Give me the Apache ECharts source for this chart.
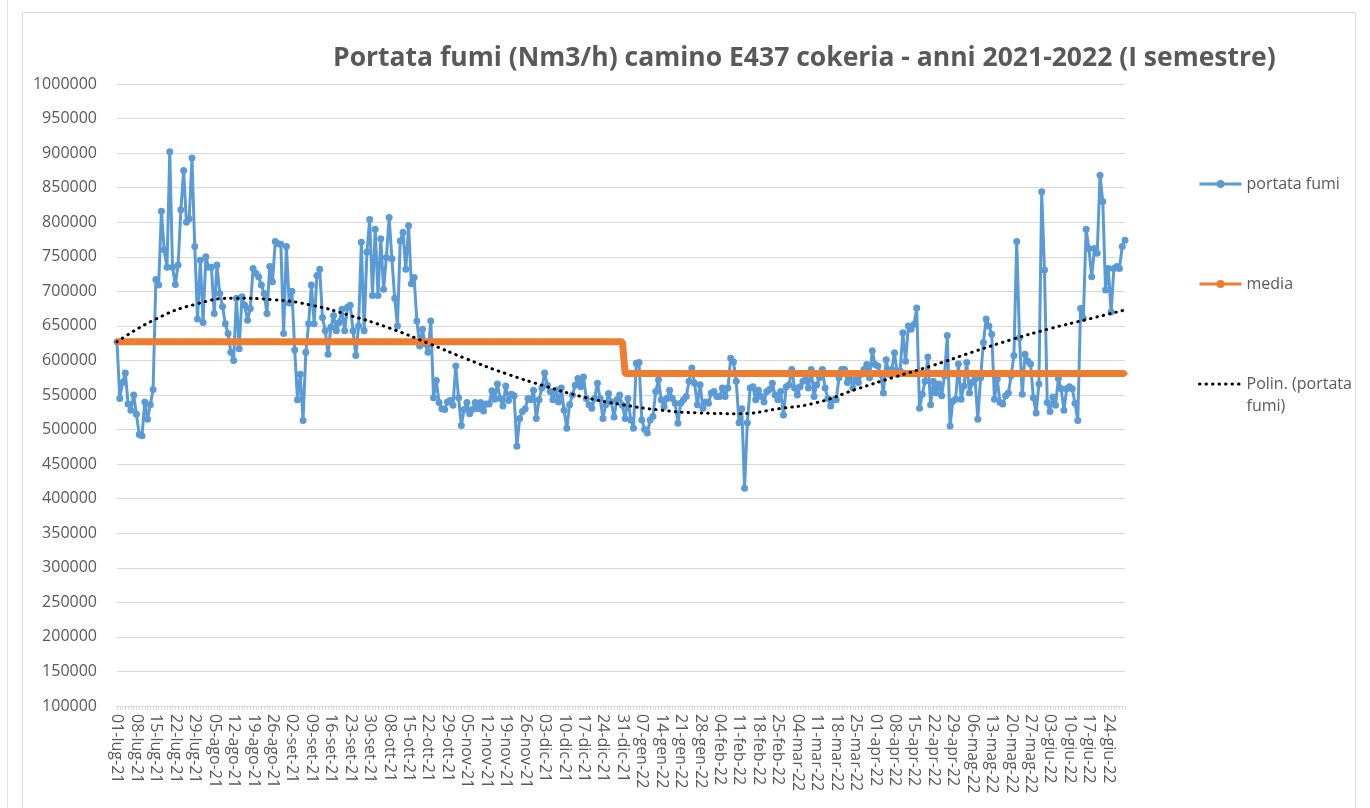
<!DOCTYPE html>
<html>
<head>
<meta charset="utf-8">
<title>Portata fumi camino E437</title>
<script src="https://cdn.jsdelivr.net/npm/echarts@6/dist/echarts.min.js"></script>
<style>
  html, body { margin: 0; padding: 0; background: #fff; }
  #chart { width: 1370px; height: 808px; }
</style>
</head>
<body>
<div id="chart"></div>
<script>
// mesi (etichette asse x)
const monthNames = ['lug', 'ago', 'set', 'ott', 'nov', 'dic', 'gen', 'feb', 'mar', 'apr', 'mag', 'giu']
const monthYears = [21, 21, 21, 21, 21, 21, 22, 22, 22, 22, 22, 22]
const monthDays = [31, 31, 30, 31, 30, 31, 31, 28, 31, 30, 31, 30]
const missingDates = ['07-ott-21'] // giorno assente nei dati

// portata fumi giornaliera (Nm3/h), un array per mese
const portataLug = [627000, 545000, 568000, 582000, 537000, 528000, 550000, 522000, 493000, 491000, 540000, 515000, 536000, 558000, 717000, 709000, 816000, 760000, 735000, 902000, 735000, 710000, 738000, 818000, 875000, 800000, 805000, 893000, 765000, 660000, 745000]
const portataAgo = [655000, 750000, 735000, 735000, 668000, 738000, 697000, 678000, 653000, 639000, 612000, 600000, 690000, 617000, 692000, 680000, 658000, 675000, 733000, 726000, 721000, 709000, 697000, 668000, 736000, 714000, 772000, 769000, 768000, 639000, 765000]
const portataSet = [683000, 700000, 615000, 543000, 580000, 513000, 612000, 653000, 709000, 653000, 723000, 732000, 662000, 643000, 609000, 648000, 665000, 643000, 655000, 674000, 643000, 677000, 680000, 643000, 607000, 650000, 771000, 643000, 757000, 804000]
const portataOtt = [694000, 790000, 694000, 776000, 703000, 749000, 807000, 747000, 690000, 650000, 773000, 785000, 732000, 795000, 711000, 720000, 657000, 621000, 645000, 624000, 612000, 657000, 546000, 571000, 539000, 530000, 529000, 540000, 542000, 535000]
const portataNov = [592000, 546000, 506000, 529000, 539000, 523000, 529000, 539000, 530000, 539000, 527000, 537000, 537000, 556000, 544000, 566000, 545000, 534000, 563000, 542000, 551000, 549000, 476000, 516000, 526000, 530000, 545000, 543000, 557000, 516000]
const portataDic = [543000, 560000, 582000, 564000, 555000, 543000, 557000, 540000, 560000, 528000, 502000, 536000, 550000, 564000, 574000, 562000, 576000, 545000, 536000, 531000, 545000, 567000, 545000, 516000, 536000, 552000, 540000, 518000, 543000, 550000, 535000]
const portataGen = [516000, 545000, 514000, 502000, 596000, 597000, 514000, 500000, 495000, 514000, 519000, 555000, 572000, 543000, 533000, 545000, 557000, 545000, 538000, 509000, 538000, 543000, 548000, 570000, 589000, 567000, 536000, 565000, 531000, 540000, 538000]
const portataFeb = [553000, 555000, 548000, 548000, 560000, 548000, 560000, 603000, 598000, 570000, 510000, 530000, 415000, 510000, 560000, 562000, 543000, 557000, 548000, 540000, 555000, 558000, 567000, 550000, 543000, 555000, 521000, 562000]
const portataMar = [565000, 587000, 560000, 550000, 562000, 570000, 572000, 560000, 587000, 548000, 565000, 575000, 587000, 560000, 545000, 534000, 543000, 543000, 575000, 587000, 587000, 568000, 580000, 560000, 575000, 568000, 580000, 587000, 594000, 575000, 614000]
const portataApr = [594000, 592000, 580000, 553000, 601000, 580000, 587000, 611000, 580000, 585000, 640000, 599000, 650000, 645000, 652000, 676000, 531000, 551000, 570000, 605000, 536000, 570000, 553000, 566000, 549000, 578000, 636000, 505000, 541000, 544000]
const portataMag = [595000, 544000, 563000, 597000, 553000, 568000, 573000, 515000, 575000, 626000, 660000, 650000, 638000, 544000, 573000, 539000, 537000, 549000, 553000, 578000, 607000, 772000, 633000, 551000, 609000, 599000, 595000, 546000, 524000, 566000, 844000]
const portataGiu = [731000, 539000, 526000, 547000, 535000, 574000, 559000, 528000, 559000, 562000, 559000, 538000, 513000, 675000, 661000, 790000, 762000, 721000, 762000, 755000, 868000, 830000, 702000, 733000, 670000, 733000, 736000, 733000, 765000, 774000]

// media annuale: 2021 (lug-dic) e 2022 (gen-giu)
const mediaValues = [627000, 581000]

// linea di tendenza polinomiale (indice categoria -> valore)
const trendIndex = [0, 14, 28, 42, 56, 70, 84, 98, 112, 126, 140, 154, 168, 182, 196, 210, 224, 238, 252, 266, 280, 294, 308, 322, 336, 350, 363]
const trendValues = [627000, 660000, 681000, 690000, 688000, 680000, 665000, 647000, 625000, 602000, 581000, 563000, 547000, 536000, 528000, 524000, 523000, 530000, 539000, 558000, 576000, 593000, 612000, 630000, 646000, 660000, 673000]

// costruzione categorie
const categories = []
const yearOfCategory = []
monthNames.forEach((m, i) => {
  for (let d = 1; d <= monthDays[i]; d++) {
    const label = String(d).padStart(2, '0') + '-' + m + '-' + monthYears[i]
    if (missingDates.includes(label)) continue
    categories.push(label)
    yearOfCategory.push(monthYears[i])
  }
})

const portata = [].concat(portataLug, portataAgo, portataSet, portataOtt, portataNov, portataDic,
  portataGen, portataFeb, portataMar, portataApr, portataMag, portataGiu)
const media = yearOfCategory.map(y => (y === 21 ? mediaValues[0] : mediaValues[1]))
const trend = categories.map(() => null)
trendIndex.forEach((idx, i) => { trend[idx] = trendValues[i] })

const FONT = '"Open Sans", "Noto Sans", sans-serif'
const GREY = '#595959'

const chart = echarts.init(document.getElementById('chart'))

const legendBase = {
  orient: 'vertical',
  left: 1193,
  itemWidth: 42,
  itemHeight: 10,
  lineStyle: { width: 3 },
  selectedMode: false,
  textStyle: { fontFamily: FONT, fontSize: 16, color: GREY, lineHeight: 22 }
}

chart.setOption({
  animation: false,
  backgroundColor: '#fff',
  title: {
    text: 'Portata fumi (Nm3/h) camino E437 cokeria - anni 2021-2022 (I semestre)',
    left: 328,
    top: 40,
    textStyle: { fontFamily: FONT, fontSize: 26.5, fontWeight: 'bold', color: GREY }
  },
  graphic: [
    { type: 'rect', shape: { x: 22.5, y: 12.5, width: 1333, height: 800 }, style: { fill: 'none', stroke: '#d9d9d9', lineWidth: 1 }, silent: true },
    { type: 'line', shape: { x1: 7.5, y1: 0, x2: 7.5, y2: 808 }, style: { stroke: '#e6e6e6', lineWidth: 1 }, silent: true }
  ],
  legend: [
    Object.assign({}, legendBase, { data: ['portata fumi'], top: 168 }),
    Object.assign({}, legendBase, { data: ['media'], top: 268 }),
    Object.assign({}, legendBase, {
      data: [{ name: 'Polin. (portata fumi)', itemStyle: { opacity: 0 } }],
      top: 346,
      formatter: () => '\nPolin. (portata\nfumi)'
    })
  ],
  grid: { left: 117, right: 245, top: 84, bottom: 102 },
  xAxis: {
    type: 'category',
    data: categories,
    boundaryGap: false,
    axisLine: { lineStyle: { color: '#d9d9d9', width: 1 } },
    axisTick: { show: true, interval: 0, length: 4, lineStyle: { color: '#d9d9d9' } },
    axisLabel: {
      interval: 6,
      rotate: -90,
      margin: 8,
      fontFamily: FONT,
      fontSize: 16,
      color: GREY
    },
    splitLine: { show: false }
  },
  yAxis: {
    type: 'value',
    min: 100000,
    max: 1000000,
    interval: 50000,
    axisLine: { show: false },
    axisTick: { show: false },
    axisLabel: {
      margin: 20,
      fontFamily: FONT,
      fontSize: 16,
      color: GREY,
      formatter: v => String(v)
    },
    splitLine: { lineStyle: { color: '#d9d9d9', width: 1 } }
  },
  series: [
    {
      name: 'portata fumi',
      type: 'line',
      data: portata,
      symbol: 'circle',
      symbolSize: 7,
      showAllSymbol: true,
      itemStyle: { color: '#5b9bd5' },
      lineStyle: { color: '#5b9bd5', width: 3 },
      z: 2
    },
    {
      name: 'media',
      type: 'line',
      data: media,
      symbol: 'circle',
      symbolSize: 5,
      showAllSymbol: true,
      itemStyle: { color: '#ed7d31' },
      lineStyle: { color: '#ed7d31', width: 7 },
      z: 3
    },
    {
      name: 'Polin. (portata fumi)',
      type: 'line',
      data: trend,
      connectNulls: true,
      smooth: 0.5,
      symbol: 'none',
      itemStyle: { color: '#000' },
      lineStyle: { color: '#000', width: 3, type: [0.5, 6], cap: 'round' },
      z: 4
    }
  ]
})
</script>
</body>
</html>
